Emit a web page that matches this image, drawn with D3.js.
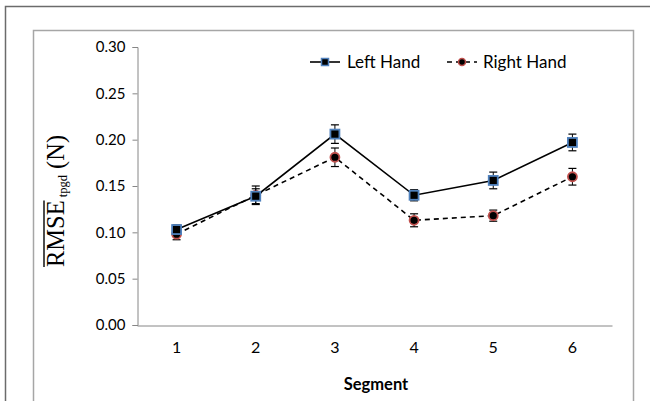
<!DOCTYPE html>
<html><head><meta charset="utf-8">
<script src="https://cdn.jsdelivr.net/npm/d3@7"></script>
<style>body{margin:0;background:#fff}svg{display:block}</style>
</head><body>
<script>
const categories = ["1","2","3","4","5","6"];
const leftHand = [0.103, 0.139, 0.206, 0.140, 0.156, 0.197];
const leftErr  = [0.005, 0.008, 0.010, 0.006, 0.009, 0.009];
const rightHand = [0.098, 0.140, 0.181, 0.113, 0.118, 0.160];
const rightErr  = [0.006, 0.010, 0.010, 0.007, 0.006, 0.009];
const yTicks = [0, 0.05, 0.10, 0.15, 0.20, 0.25, 0.30];
const seriesNames = ["Left Hand", "Right Hand"];

const W = 650, H = 401;
const svg = d3.select("body").append("svg").attr("width", W).attr("height", H);
svg.append("rect").attr("width", W).attr("height", H).attr("fill", "#fff");

// outer and inner frames
svg.append("rect").attr("x", 5.5).attr("y", 6.5).attr("width", 700).attr("height", 500)
  .attr("fill", "none").attr("stroke", "#6b6b6b").attr("stroke-width", 1.5);
svg.append("rect").attr("x", 33.5).attr("y", 30.5).attr("width", 600).attr("height", 450)
  .attr("fill", "none").attr("stroke", "#a6a6a6").attr("stroke-width", 1.5);

const x = d3.scaleBand().domain(categories).range([137, 612]);
const y = d3.scaleLinear().domain([0, 0.30]).range([325, 47]);
const cx = d => x(d) + x.bandwidth() / 2;

const font = "Lato, 'Open Sans', sans-serif";

// y axis
const yAxis = svg.append("g").attr("transform", "translate(137.5,0)")
  .call(d3.axisLeft(y).tickValues(yTicks).tickFormat(d3.format(".2f")).tickSize(5).tickPadding(7));
yAxis.select(".domain").attr("stroke", "#868686");
yAxis.selectAll(".tick line").attr("stroke", "#868686");
yAxis.selectAll(".tick text").attr("font-family", font).attr("font-size", 15).attr("fill", "#000");

// x axis
const xAxis = svg.append("g").attr("transform", "translate(0,325.5)")
  .call(d3.axisBottom(x).tickSize(0).tickPadding(16));
xAxis.select(".domain").attr("stroke", "#868686");
xAxis.selectAll(".tick text").attr("font-family", font).attr("font-size", 16).attr("fill", "#000");

svg.append("text").attr("x", 376).attr("y", 390).attr("text-anchor", "middle")
  .attr("font-family", font).attr("font-size", 16.5).attr("font-weight", "bold").text("Segment");

// y axis title
const tx = 64, ty = 201;
const yt = svg.append("text").attr("transform", `translate(${tx},${ty}) rotate(-90)`)
  .attr("text-anchor", "middle").attr("font-family", "'Liberation Serif', 'DejaVu Serif', serif")
  .attr("font-size", 24.5).attr("fill", "#000");
yt.append("tspan").text("RMSE");
yt.append("tspan").attr("font-size", 12.5).attr("dy", 3).text(" tpgd");
yt.append("tspan").attr("dy", -3).text(" (N)");
// overline over RMSE
const node = yt.node();
const startPt = node.getStartPositionOfChar(0);
const rmseLen = node.getSubStringLength(0, 4);
svg.append("line").attr("transform", `translate(${tx},${ty}) rotate(-90)`)
  .attr("x1", startPt.x).attr("x2", startPt.x + rmseLen)
  .attr("y1", -20).attr("y2", -20).attr("stroke", "#000").attr("stroke-width", 1.4);

// series
const series = [
  {name: seriesNames[0], vals: leftHand, err: leftErr, dash: null, shape: "square"},
  {name: seriesNames[1], vals: rightHand, err: rightErr, dash: "5,4", shape: "circle"}
];

const line = d3.line().x((d, i) => cx(categories[i])).y(d => y(d));

[series[1], series[0]].forEach(s => {
  svg.append("path").datum(s.vals).attr("d", line).attr("fill", "none")
    .attr("stroke", "#000").attr("stroke-width", 1.6)
    .attr("stroke-dasharray", s.dash);
  const g = svg.append("g");
  s.vals.forEach((v, i) => {
    const px = cx(categories[i]);
    const top = y(v + s.err[i]), bot = y(v - s.err[i]);
    g.append("line").attr("x1", px).attr("x2", px).attr("y1", top).attr("y2", bot)
      .attr("stroke", "#000").attr("stroke-width", 1);
    [top, bot].forEach(yy => g.append("line").attr("x1", px - 4).attr("x2", px + 4)
      .attr("y1", yy).attr("y2", yy).attr("stroke", "#000").attr("stroke-width", 1.2));
  });
  s.vals.forEach((v, i) => {
    const px = cx(categories[i]), py = y(v);
    if (s.shape === "square") {
      g.append("rect").attr("x", px - 4.5).attr("y", py - 4.5).attr("width", 9).attr("height", 9)
        .attr("fill", "#000").attr("stroke", "#4f81bd").attr("stroke-width", 1.8);
    } else {
      g.append("circle").attr("cx", px).attr("cy", py).attr("r", 4.5)
        .attr("fill", "#000").attr("stroke", "#c0504d").attr("stroke-width", 1.8);
    }
  });
});

// legend
const legend = [
  {s: series[0], x0: 310, x1: 340, tx: 347},
  {s: series[1], x0: 447, x1: 477, tx: 483}
];
legend.forEach(L => {
  const ly = 62;
  svg.append("line").attr("x1", L.x0).attr("x2", L.x1).attr("y1", ly).attr("y2", ly)
    .attr("stroke", "#000").attr("stroke-width", 1.6).attr("stroke-dasharray", L.s.dash);
  const mx = (L.x0 + L.x1) / 2;
  if (L.s.shape === "square") {
    svg.append("rect").attr("x", mx - 3.5).attr("y", ly - 3.5).attr("width", 7).attr("height", 7)
      .attr("fill", "#000").attr("stroke", "#4f81bd").attr("stroke-width", 1.5);
  } else {
    svg.append("circle").attr("cx", mx).attr("cy", ly).attr("r", 3.5)
      .attr("fill", "#000").attr("stroke", "#c0504d").attr("stroke-width", 1.5);
  }
  svg.append("text").attr("x", L.tx).attr("y", ly).attr("dy", "0.35em")
    .attr("font-family", font).attr("font-size", 17).text(L.s.name);
});
</script>
</body></html>
